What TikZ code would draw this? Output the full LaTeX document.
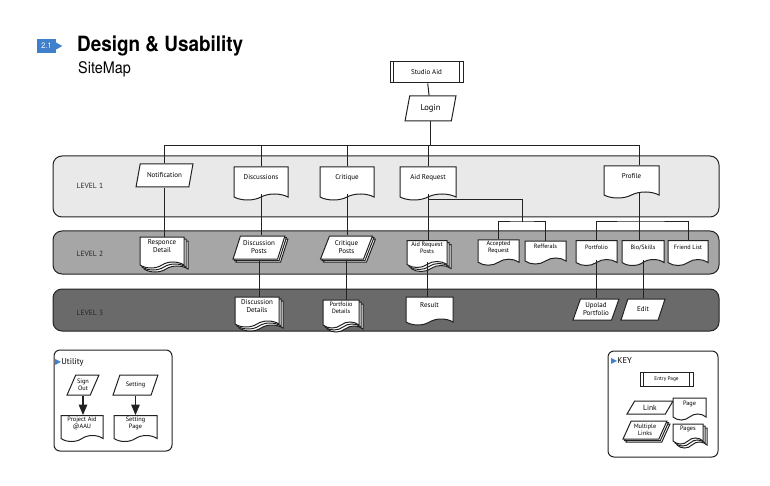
\documentclass[tikz,border=0pt]{standalone}
\usepackage{fontspec}
\setsansfont{PT Sans}
\newfontfamily\titlefont[FakeStretch=0.9]{TeX Gyre Heros}
\newfontfamily\symfont{DejaVu Sans}
\usetikzlibrary{shapes.geometric,shapes.symbols,shadows,arrows}

\definecolor{lvlone}{HTML}{E9E9E9}
\definecolor{lvltwo}{HTML}{A6A6A6}
\definecolor{lvlthree}{HTML}{6A6A6A}
\definecolor{badgeblue}{HTML}{3F7FCB}
\definecolor{edge}{HTML}{222222}

\tikzset{
  box/.style={draw=edge,fill=white,line width=1pt,align=center,inner sep=1pt,
    font=\sffamily\fontsize{7}{8}\selectfont},
  page/.style={box,tape,tape bend top=none,tape bend bottom=in and out,tape bend height=6pt,text depth=6pt},
  pages/.style={page,double copy shadow={shadow xshift=2pt,shadow yshift=-2pt,draw=edge,fill=white,line width=1pt}},
  link/.style={box,trapezium,trapezium left angle=66,trapezium right angle=114,trapezium stretches=true},
  links/.style={link,double copy shadow={shadow xshift=1.5pt,shadow yshift=-1.5pt,draw=edge,fill=white,line width=1pt}},
  entry/.style={box,rectangle,path picture={
    \draw[line width=1pt] ([xshift=3.5pt]path picture bounding box.north west) -- ([xshift=3.5pt]path picture bounding box.south west)
      ([xshift=-3.5pt]path picture bounding box.north east) -- ([xshift=-3.5pt]path picture bounding box.south east);}},
  band/.style={draw=edge,line width=1pt,rounded corners=9pt},
  lvl/.style={font=\sffamily\fontsize{7.5}{8}\selectfont,text=black!85},
  wire/.style={draw=edge,line width=1pt},
  legend/.style={draw=edge,line width=1pt,fill=white,rounded corners=6pt},
  small/.style={font=\sffamily\fontsize{6.2}{7}\selectfont}
}

\begin{document}
\begin{tikzpicture}[x=1pt,y=-1pt]
\useasboundingbox (0,0) rectangle (770,486);

% title
\node[fill=badgeblue,text=white,minimum width=19pt,minimum height=14pt,inner sep=0pt,font=\titlefont\fontsize{8}{8}\selectfont] (badge) at (46.5,46) {2.1};
\fill[badgeblue] ([yshift=3.5pt]badge.east) -- ([xshift=6pt]badge.east) -- ([yshift=-3.5pt]badge.east) -- cycle;
\node[anchor=base west,inner sep=0pt,font=\titlefont\bfseries\fontsize{21}{21}\selectfont] (title) at (77,52) {Design \& Usability};
\node[anchor=base west,inner sep=0pt,font=\titlefont\fontsize{16}{16}\selectfont] (subtitle) at (78,74) {SiteMap};

% levels
\draw[band,fill=lvlone] (53,156) rectangle (719,217);
\draw[band,fill=lvltwo] (53,231) rectangle (719,274);
\draw[band,fill=lvlthree] (53,289) rectangle (719,331);
\node[lvl] (l1) at (90,186) {LEVEL\,\,1};
\node[lvl] (l2) at (90,254) {LEVEL\,\,2};
\node[lvl] (l3) at (90,313) {LEVEL\,\,3};

% top
\node[entry,minimum width=73pt,minimum height=21pt] (studio) at (426.5,72.5) {Studio Aid};
\node[link,trapezium left angle=76,trapezium right angle=104,minimum width=51pt,minimum height=25pt,font=\sffamily\fontsize{8.5}{9}\selectfont] (login) at (430.5,108.5) {Login};

% level 1
\node[link,minimum width=57pt,minimum height=23pt] (notif) at (164.5,175.5) {Notification};
\node[page,minimum width=54pt,minimum height=33pt] (disc) at (261,180.5) {Discussions};
\node[page,minimum width=54pt,minimum height=33pt] (crit) at (347,180.5) {Critique};
\node[page,minimum width=56pt,minimum height=33pt] (aidreq) at (428,180.5) {Aid Request};
\node[page,minimum width=55pt,minimum height=32pt] (profile) at (631.5,179) {Profile};

% level 2
\node[pages,minimum width=44pt,minimum height=31pt] (resp) at (162,249.5) {Responce\\Detail};
\node[links,minimum width=52pt,minimum height=23pt] (discpost) at (259,247.5) {Discussion\\Posts};
\node[links,minimum width=52pt,minimum height=23pt] (critpost) at (346.5,247.5) {Critique\\Posts};
\node[pages,small,minimum width=40pt,minimum height=27pt] (aidpost) at (427,251) {Aid Request\\Posts};
\node[page,small,minimum width=41pt,minimum height=23pt] (accreq) at (498.5,249.5) {Accepted\\Request};
\node[page,small,minimum width=41pt,minimum height=23pt] (refs) at (545.5,249.5) {Refferals};
\node[page,small,minimum width=41pt,minimum height=25pt] (portf) at (596.5,250) {Portfolio};
\node[page,small,minimum width=42pt,minimum height=25pt] (bio) at (643,250) {Bio/Skills};
\node[page,small,minimum width=40pt,minimum height=25pt] (friends) at (688,250) {Friend List};

% level 3
\node[pages,minimum width=44pt,minimum height=30pt] (discdet) at (257,309) {Discussion\\Details};
\node[pages,small,minimum width=36pt,minimum height=28pt] (portdet) at (341,311) {Portfolio\\Details};
\node[page,minimum width=47pt,minimum height=28pt] (result) at (429.5,308) {Result};
\node[link,minimum width=46pt,minimum height=21pt] (upload) at (596,309.5) {Upolad\\Portfolio};
\node[link,minimum width=44pt,minimum height=21pt] (edit) at (643,309.5) {Edit};

% connectors
\coordinate (hub) at (429,146);
\coordinate (pline) at (639,222);
\coordinate (arfork) at (522,222);
\draw[wire] (studio) -- (login);
\draw[wire] (login.south) -- (login.south |- hub);
\draw[wire] (notif.north) |- (pline |- hub) -- (profile.north -| pline);
\draw[wire] (disc.north) -- (disc.north |- hub);
\draw[wire] (crit.north) -- (crit.north |- hub);
\draw[wire] (aidreq.north) -- (aidreq.north |- hub);
\draw[wire] (notif.south) -- (notif.south |- resp.north);
\draw[wire] (disc.south) -- (disc.south |- discpost.north);
\draw[wire] (crit.south) -- (crit.south |- critpost.north);
\draw[wire] (aidreq.south) -- (aidreq.south |- aidpost.north);
\draw[wire] (aidreq.south |- 0,200) -| (arfork);
\draw[wire] (accreq.north) |- (arfork) -| (refs.north);
\draw[wire] (profile.south -| pline) -- (bio.north -| pline);
\draw[wire] (portf.north) |- (pline) -| (friends.north);
\draw[wire] (discpost.south) -- (discpost.south |- discdet.north);
\draw[wire] (critpost.south) -- (critpost.south |- portdet.north);
\draw[wire] (aidpost.south) -- (aidpost.south |- result.north);
\draw[wire] (portf.south) -- (portf.south |- upload.north);
\draw[wire] (bio.south) -- (bio.south |- edit.north);

% utility
\draw[legend] (54,350) rectangle (172,451);
\node[anchor=west,inner sep=0pt,font=\sffamily\fontsize{8.5}{9}\selectfont] (util) at (55,362) {{\symfont\color{badgeblue}\fontsize{8}{8}\selectfont ▶}Utility};
\node[link,trapezium left angle=59,trapezium right angle=121,minimum width=32pt,minimum height=20pt,font=\sffamily\fontsize{6.3}{7.3}\selectfont] (signout) at (83,385) {Sign\\Out};
\node[link,trapezium left angle=59,trapezium right angle=121,minimum width=45pt,minimum height=20pt,font=\sffamily\fontsize{6.3}{7.3}\selectfont] (setting) at (135.5,385) {Setting};
\node[page,minimum width=42pt,minimum height=26pt,font=\sffamily\fontsize{6.3}{7.3}\selectfont] (project) at (82,425.5) {Project Aid\\@AAU};
\node[page,minimum width=43pt,minimum height=26pt,font=\sffamily\fontsize{6.3}{7.3}\selectfont] (setpage) at (135.5,425.5) {Setting\\Page};
\draw[wire,->,>=triangle 45,line width=1.4pt] (signout) -- (signout |- project.north);
\draw[wire,->,>=triangle 45,line width=1.4pt] (setting) -- (setting |- setpage.north);

% key
\draw[legend] (608,351) rectangle (718,457);
\node[anchor=west,inner sep=0pt,font=\sffamily\fontsize{8.5}{9}\selectfont] (keytitle) at (611,361) {{\symfont\color{badgeblue}\fontsize{8}{8}\selectfont ▶}KEY};
\node[entry,minimum width=53pt,minimum height=14pt,font=\sffamily\fontsize{5.3}{6}\selectfont] (keyentry) at (666.5,379) {Entry Page};
\node[link,trapezium left angle=62,trapezium right angle=118,minimum width=46pt,minimum height=13pt,font=\sffamily\fontsize{7.5}{8}\selectfont] (keylink) at (650,407.5) {Link};
\node[page,minimum width=33pt,minimum height=22pt,font=\sffamily\fontsize{6.3}{7}\selectfont] (keypage) at (689.5,406) {Page};
\node[links,trapezium left angle=62,trapezium right angle=118,minimum width=44pt,minimum height=18pt,font=\sffamily\fontsize{6.3}{7}\selectfont] (keylinks) at (645,430) {Multiple\\Links};
\node[pages,minimum width=30pt,minimum height=20pt,font=\sffamily\fontsize{6.3}{7}\selectfont] (keypages) at (688,431) {Pages};
\end{tikzpicture}
\end{document}
